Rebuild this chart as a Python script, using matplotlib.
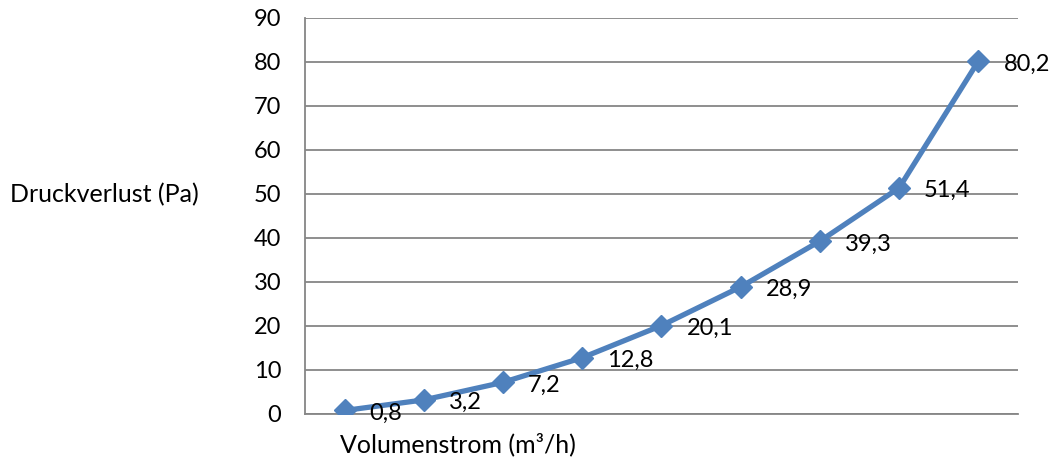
import matplotlib
matplotlib.use("Agg")
import matplotlib.pyplot as plt

# Druckverlust values, one per Volumenstrom step (x categories have no labels)
categories = list(range(9))
druckverlust = [0.8, 3.2, 7.2, 12.8, 20.1, 28.9, 39.3, 51.4, 80.2]
value_labels = ["0,8", "3,2", "7,2", "12,8", "20,1", "28,9", "39,3", "51,4", "80,2"]
yticks = list(range(0, 100, 10))

plt.rcParams['font.family'] = ['Lato', 'DejaVu Sans']

fig = plt.figure(figsize=(10.51, 4.66), dpi=100)
ax = fig.add_axes([305/1051, 1-414/466, 713/1051, 396/466])

blue = '#4F81BD'
grid = '#868686'

ax.plot(categories, druckverlust, color=blue, lw=3.8, marker='D', ms=11,
        markerfacecolor=blue, markeredgecolor=blue, zorder=3)

for x, y, t in zip(categories, druckverlust, value_labels):
    ax.annotate(t, (x, y), xytext=(18, -2), textcoords='offset points',
                ha='left', va='center', fontsize=17, color='black', zorder=4)

ax.set_xlim(-0.5, 8.5)
ax.set_ylim(0, 90)
ax.set_yticks(yticks)
ax.set_xticks([])
ax.yaxis.grid(True, color=grid, lw=1.3)
ax.set_axisbelow(True)
ax.tick_params(axis='y', length=0, pad=17, labelsize=17)

for s in ['top', 'right']:
    ax.spines[s].set_visible(False)
for s in ['left', 'bottom']:
    ax.spines[s].set_color(grid)
    ax.spines[s].set_linewidth(1.3)

fig.text(10/1051, 1-195/466, 'Druckverlust (Pa)', ha='left', va='center', fontsize=18)
fig.text(340/1051, 1-444/466, 'Volumenstrom (m³/h)', ha='left', va='center', fontsize=18)

fig.savefig('out.png', dpi=100)
